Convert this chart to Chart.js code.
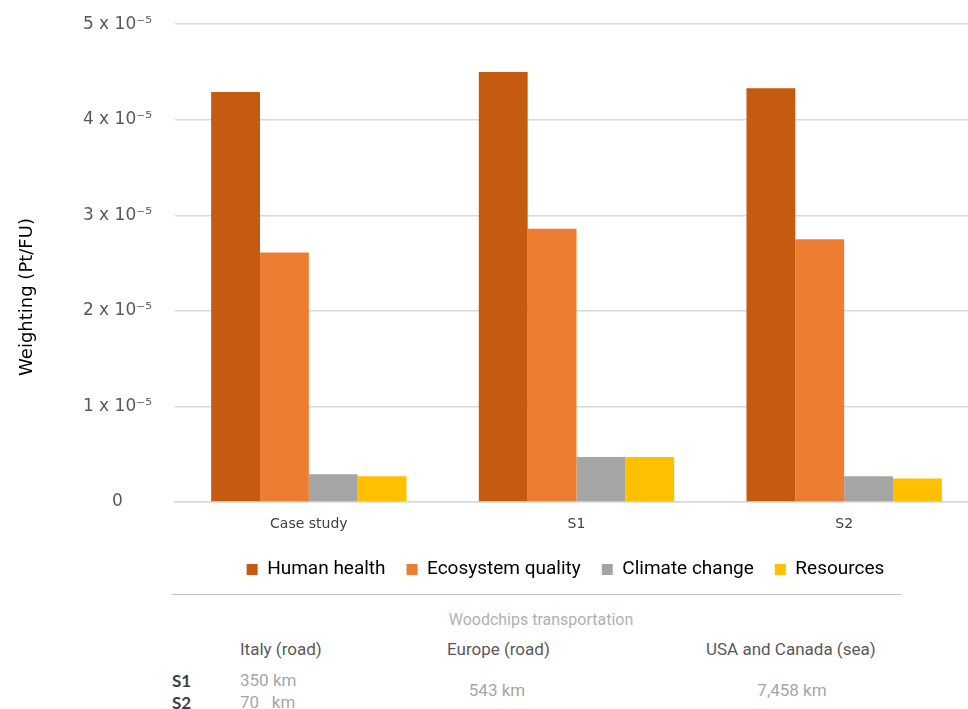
<!DOCTYPE html>
<html>
<head>
<meta charset="utf-8">
<script src="https://cdn.jsdelivr.net/npm/chart.js@4"></script>
<style>
  html, body { margin: 0; padding: 0; background: #fff; overflow: hidden; }
  #wrap { position: relative; width: 980px; height: 709px; }
  #chart-box { position: absolute; left: 0; top: -9px; width: 980px; height: 600px; }
  .note { position: absolute; white-space: nowrap; font-family: 'Roboto', sans-serif; font-size: 17px; color: #a6a6a6; }
  .title { font-size: 16px; color: #b0b0b0; }
  .head { color: #595959; }
  .row { color: #404040; font-weight: bold; font-family: 'Lato', sans-serif; font-size: 17px; }
  #rule { position: absolute; left: 172px; top: 594px; width: 729px; height: 0; border-top: 1.5px solid #bfbfbf; }
</style>
</head>
<body>
<div id="wrap">
  <div id="chart-box"><canvas id="weighting-chart" width="980" height="600"></canvas></div>
  <div id="rule"></div>
  <div id="table-notes"></div>
</div>
<script>
var categories = ["Case study", "S1", "S2"];
var seriesNames = ["Human health", "Ecosystem quality", "Climate change", "Resources"];
var humanHealth = [4.29e-5, 4.50e-5, 4.33e-5];
var ecosystemQuality = [2.61e-5, 2.86e-5, 2.75e-5];
var climateChange = [0.29e-5, 0.47e-5, 0.27e-5];
var resources = [0.27e-5, 0.47e-5, 0.245e-5];
var seriesColors = ["#c55a11", "#ed7d31", "#a5a5a5", "#ffc000"];
var yTicks = ["0", "1 x 10\u207B\u2075", "2 x 10\u207B\u2075", "3 x 10\u207B\u2075", "4 x 10\u207B\u2075", "5 x 10\u207B\u2075"];
var yTitle = "Weighting (Pt/FU)";

var transportTitle = "Woodchips transportation";
var transportRoutes = ["Italy (road)", "Europe (road)", "USA and Canada (sea)"];
var rowNames = ["S1", "S2"];
var italyKm = ["350 km", "70\u00A0\u00A0 km"];
var europeKm = "543 km";
var overseasKm = "7,458 km";

var allSeries = [humanHealth, ecosystemQuality, climateChange, resources];
var datasets = [];
for (var i = 0; i < allSeries.length; i++) {
    datasets.push({
        label: seriesNames[i],
        data: allSeries[i],
        backgroundColor: seriesColors[i],
        borderWidth: 0,
        categoryPercentage: 0.73,
        barPercentage: 1.0
    });
}

// y title sits a bit below the middle of the axis in the original, so draw it by hand
var yTitlePlugin = {
    id: 'yTitle',
    afterLayout: function (chart) {
        // legend sits further right than the canvas centre
        var shift = (chart.chartArea.left + chart.chartArea.right) / 2 - chart.width / 2 - 10;
        chart.legend.left += shift;
        chart.legend.right += shift;
    },
    afterDraw: function (chart) {
        var c = chart.ctx;
        c.save();
        c.translate(27, 306);
        c.rotate(-Math.PI / 2);
        c.fillStyle = '#000';
        c.font = "18px 'DejaVu Sans', sans-serif";
        c.textAlign = 'center';
        c.textBaseline = 'middle';
        c.fillText(yTitle, 0, 0);
        c.restore();
    }
};

var ctx = document.getElementById('weighting-chart').getContext('2d');
var myChart = new Chart(ctx, {
    type: 'bar',
    data: {
        labels: categories,
        datasets: datasets
    },
    plugins: [yTitlePlugin],
    options: {
        responsive: false,
        animation: false,
        layout: { padding: { top: 4, right: 2, bottom: 2, left: 0 } },
        plugins: {
            tooltip: { enabled: false },
            legend: {
                position: 'bottom',
                labels: {
                    boxWidth: 11,
                    boxHeight: 11,
                    padding: 21,
                    color: '#000',
                    font: { family: "'Roboto', sans-serif", size: 19 }
                }
            }
        },
        scales: {
            x: {
                grid: { display: false, drawTicks: false },
                border: { display: true, color: '#d9d9d9', width: 1.5 },
                afterFit: function (scale) { scale.height = 37; },
                ticks: {
                    color: '#404040',
                    padding: 14,
                    font: { family: "'DejaVu Sans', sans-serif", size: 14 }
                }
            },
            y: {
                min: 0,
                max: 5e-5,
                afterFit: function (scale) { scale.width = 175; },
                grid: { color: '#d9d9d9', lineWidth: 1.5, drawTicks: false },
                border: { display: false },
                ticks: {
                    stepSize: 1e-5,
                    padding: 23,
                    crossAlign: 'center',
                    color: '#595959',
                    font: { family: "'DejaVu Sans', sans-serif", size: 17 },
                    callback: function (value) {
                        return yTicks[Math.round(value * 1e5)];
                    }
                }
            }
        }
    }
});

// table below the chart
function addNote(text, x, y, cls, align) {
    var el = document.createElement('div');
    el.className = 'note ' + (cls || '');
    el.textContent = text;
    el.style.top = y + 'px';
    el.style.left = x + 'px';
    if (align === 'center') {
        el.style.transform = 'translateX(-50%)';
    }
    document.getElementById('table-notes').appendChild(el);
}
addNote(transportTitle, 541, 610, 'title', 'center');
addNote(transportRoutes[0], 240, 639, 'head');
addNote(transportRoutes[1], 447, 639, 'head');
addNote(transportRoutes[2], 706, 639, 'head');
addNote(rowNames[0], 172, 670, 'row');
addNote(rowNames[1], 172, 692, 'row');
addNote(italyKm[0], 240, 670);
addNote(italyKm[1], 240, 692);
addNote(europeKm, 497, 680, '', 'center');
addNote(overseasKm, 792, 680, '', 'center');
</script>
</body>
</html>
